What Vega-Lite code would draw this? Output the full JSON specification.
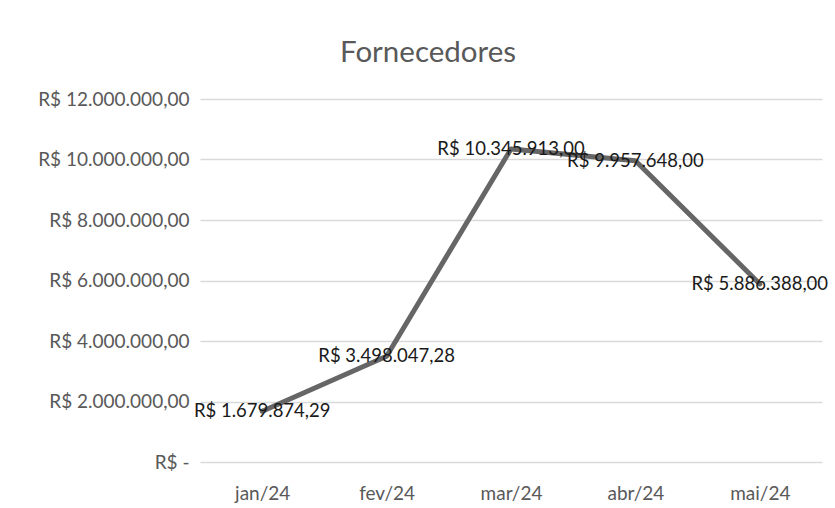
{
  "$schema": "https://vega.github.io/schema/vega-lite/v6.json",
  "width": 622,
  "height": 363,
  "autosize": {"type": "none"},
  "padding": {"left": 200, "top": 99, "right": 13, "bottom": 46},
  "background": "white",
  "config": {
    "locale": {"number": {"decimal": ",", "thousands": ".", "grouping": [3], "currency": ["R$ ", ""]}},
    "view": {"stroke": null},
    "font": "Lato"
  },
  "title": {
    "text": "Fornecedores",
    "fontSize": 29.5,
    "fontWeight": "normal",
    "color": "#595959",
    "font": "Lato",
    "anchor": "middle",
    "dx": -83,
    "offset": 22
  },
  "data": {
    "values": [
      {"mes": "jan/24", "valor": 1679874.29},
      {"mes": "fev/24", "valor": 3498047.28},
      {"mes": "mar/24", "valor": 10345913.00},
      {"mes": "abr/24", "valor": 9957648.00},
      {"mes": "mai/24", "valor": 5886388.00}
    ]
  },
  "encoding": {
    "x": {
      "field": "mes",
      "type": "ordinal",
      "sort": null,
      "title": null,
      "scale": {"paddingInner": 0, "paddingOuter": 0.5},
      "axis": {
        "labelAngle": 0,
        "ticks": false,
        "domain": false,
        "labelFontSize": 19,
        "labelColor": "#595959",
        "labelPadding": 22,
        "grid": false
      }
    },
    "y": {
      "field": "valor",
      "type": "quantitative",
      "title": null,
      "scale": {"domain": [0, 12000000]},
      "axis": {
        "values": [0, 2000000, 4000000, 6000000, 8000000, 10000000, 12000000],
        "format": "$,.2f",
        "labelExpr": "datum.value == 0 ? 'R$ -' : datum.label",
        "ticks": false,
        "domain": false,
        "labelFontSize": 19,
        "labelColor": "#595959",
        "labelPadding": 11,
        "gridColor": "#d9d9d9",
        "gridWidth": 1.5
      }
    }
  },
  "layer": [
    {
      "mark": {"type": "line", "color": "#666666", "strokeWidth": 5, "strokeCap": "round", "strokeJoin": "round"}
    },
    {
      "mark": {"type": "text", "fontSize": 18.5, "color": "#1a1a1a", "align": "center", "baseline": "middle"},
      "encoding": {
        "text": {"field": "valor", "type": "quantitative", "format": "$,.2f"}
      }
    }
  ]
}
